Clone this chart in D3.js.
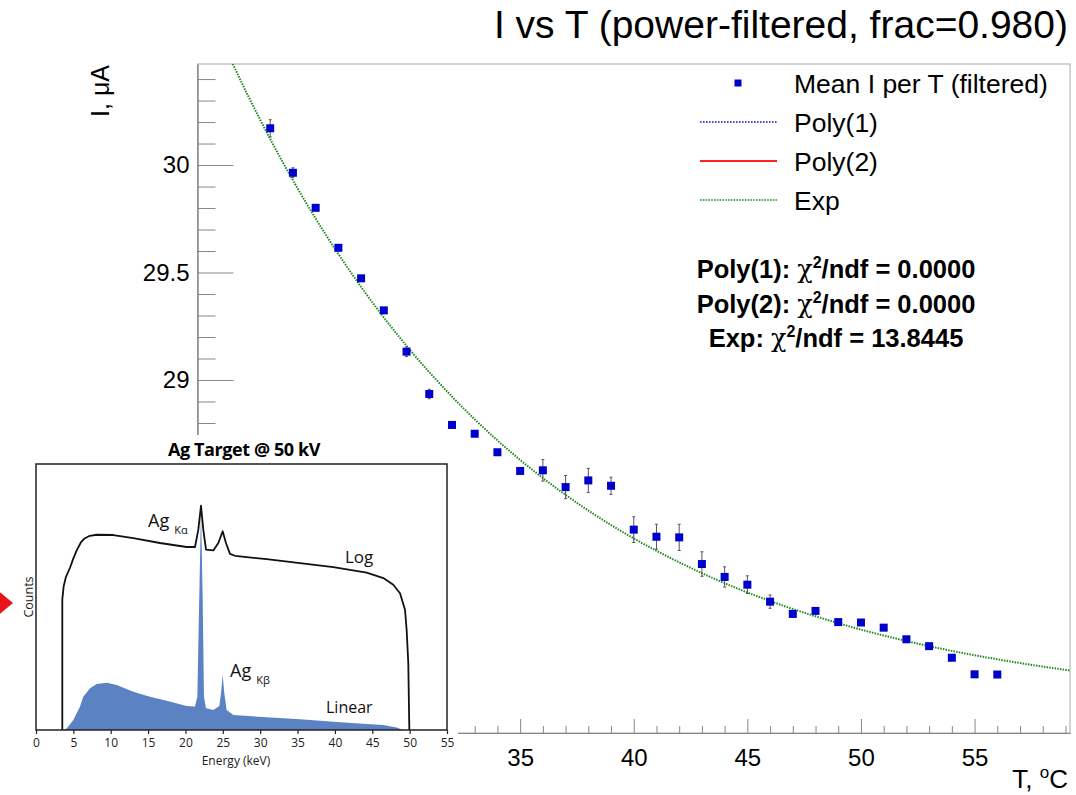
<!DOCTYPE html>
<html><head><meta charset="utf-8">
<script src="https://cdn.jsdelivr.net/npm/d3@7"></script>
<style>body{margin:0;background:#fff} svg{display:block}</style>
</head><body><svg id="c" width="1076" height="795"></svg>
<script>
// ---------- main chart data ----------
const temps = [24,25,26,27,28,29,30,31,32,33,34,35,36,37,38,39,40,41,42,43,44,45,46,47,48,49,50,51,52,53,54,55,56];
const meanI = [30.171,29.964,29.801,29.615,29.473,29.324,29.132,28.935,28.791,28.750,28.664,28.577,28.580,28.502,28.533,28.508,28.304,28.271,28.268,28.144,28.084,28.048,27.969,27.912,27.926,27.874,27.872,27.848,27.794,27.762,27.708,27.631,27.630];
const errI  = [0.040,0.023,0.010,0.008,0.012,0.008,0.023,0.022,0.006,0.006,0.010,0.008,0.050,0.054,0.056,0.040,0.060,0.058,0.061,0.057,0.047,0.041,0.031,0.015,0.008,0.006,0.006,0.006,0.010,0.008,0.008,0.006,0.006];
// Exp fit curve
const fitT = [22,23,24,26,28,30,32,34,36,38,40,42,44,46,48,50,52,54,56,58,59.2];
const fitI = [30.550,30.328,30.121,29.751,29.433,29.159,28.923,28.719,28.544,28.393,28.263,28.152,28.055,27.972,27.901,27.839,27.786,27.740,27.701,27.667,27.649];
// visible tick labels (the lower/left ones are covered by the inset picture)
const xTicks = [35,40,45,50,55];
const xTickLabels = ["35","40","45","50","55"];
const yTicks = [29,29.5,30];
const yTickLabels = ["29","29.5","30"];
const legendLabels = ["Mean I per T (filtered)","Poly(1)","Poly(2)","Exp"];
const fitNames = ["Poly(1)","Poly(2)","Exp"];
const chi2ndf = ["0.0000","0.0000","13.8445"];

// ---------- inset (Ag target spectrum) data ----------
const insetTicks = [0,5,10,15,20,25,30,35,40,45,50,55];
const logE = [3.52,3.52,3.7,4.0,4.55,5.0,5.45,6.0,6.5,7.2,8.12,10.35,13.02,16.59,20.16,21.28,21.72,22.08,22.39,22.75,23.73,24.40,24.98,25.42,25.96,26.63,30.86,35.33,39.79,44.25,46.48,47.81,48.71,49.38,49.60,49.82,49.96];
const logC = [0,0.49,0.54,0.575,0.61,0.645,0.675,0.705,0.72,0.73,0.734,0.733,0.721,0.703,0.688,0.688,0.753,0.843,0.753,0.678,0.675,0.703,0.747,0.703,0.662,0.655,0.642,0.627,0.612,0.592,0.571,0.546,0.514,0.452,0.376,0.251,0];
const linE = [3.66,4.1,5.0,5.89,6.33,7.23,8.12,9.46,10.79,13.02,15.25,17.48,20.16,21.28,21.59,21.85,22.08,22.30,22.48,22.75,23.73,24.53,24.76,24.98,25.20,25.51,26.40,30.86,35.33,39.79,44.25,46.48,48.26,49.15];
const linC = [0,0.006,0.038,0.088,0.125,0.157,0.173,0.178,0.169,0.144,0.125,0.110,0.090,0.088,0.125,0.5,0.828,0.5,0.125,0.082,0.075,0.090,0.138,0.207,0.138,0.075,0.056,0.048,0.040,0.031,0.023,0.019,0.009,0];

const svg = d3.select('#c');
svg.append('rect').attr('width',1076).attr('height',795).attr('fill','#fff');
const F = 'Liberation Sans, Arial, Helvetica, sans-serif';

const x = d3.scaleLinear().domain([20.8, 59.2]).range([197.5, 1070]);
const y = d3.scaleLinear().domain([27.358, 30.47]).range([733, 64]);

svg.append('defs').append('clipPath').attr('id','pc')
  .append('rect').attr('x',197.5).attr('y',64).attr('width',872.5).attr('height',669);

// frame
svg.append('rect').attr('x',197.5).attr('y',64).attr('width',872.5).attr('height',669)
  .attr('fill','none').attr('stroke','#aaa').attr('stroke-width',1);

// axes
function styleAxis(g){
  g.select('.domain').attr('stroke','#888');
  g.selectAll('.tick line').attr('stroke','#888');
  g.selectAll('text').attr('font-family',F).attr('font-size',24).attr('fill','#000');
}
const yMinor = y.ticks(31).filter(v => !yTicks.some(t => Math.abs(t-v)<1e-6));
svg.append('g').attr('transform','translate(197.5,0)')
  .call(d3.axisLeft(y).tickValues(yMinor).tickSize(-18).tickFormat('').tickSizeOuter(0)).call(styleAxis);
svg.append('g').attr('transform','translate(197.5,0)')
  .call(d3.axisLeft(y).tickValues(yTicks).tickSize(-36).tickPadding(8).tickSizeOuter(0)
    .tickFormat((d,i)=>yTickLabels[i])).call(styleAxis);
const xMinor = x.ticks(40).filter(v => !xTicks.includes(v));
svg.append('g').attr('transform','translate(0,733)')
  .call(d3.axisBottom(x).tickValues(xMinor).tickSize(-7).tickFormat('').tickSizeOuter(0)).call(styleAxis);
svg.append('g').attr('transform','translate(0,733)')
  .call(d3.axisBottom(x).tickValues(xTicks).tickSize(-14).tickPadding(16).tickSizeOuter(0)
    .tickFormat((d,i)=>xTickLabels[i])).call(styleAxis);

// axis titles
svg.append('text').attr('transform','translate(109,65) rotate(-90)').attr('text-anchor','end')
  .attr('font-family',F).attr('font-size',25).text('I, \u03bcA');
const xt = svg.append('text').attr('x',1068).attr('y',788).attr('text-anchor','end')
  .attr('font-family',F).attr('font-size',26);
xt.append('tspan').text('T, ');
xt.append('tspan').attr('font-size',17).attr('dy',-10).text('o');
xt.append('tspan').attr('dy',10).text('C');

// title
svg.append('text').attr('x',1068).attr('y',38).attr('text-anchor','end')
  .attr('font-family',F).attr('font-size',39).text('I vs T (power-filtered, frac=0.980)');

// fit curve
const plot = svg.append('g').attr('clip-path','url(#pc)');
plot.append('path').datum(fitT.map((t,i)=>[t,fitI[i]]))
  .attr('d', d3.line().x(d=>x(d[0])).y(d=>y(d[1])).curve(d3.curveMonotoneX))
  .attr('fill','none').attr('stroke','#1f8a1f').attr('stroke-width',2).attr('stroke-dasharray','1.5,1.2');

// error bars + markers
const pts = temps.map((t,i)=>({t, v:meanI[i], e:errI[i]}));
const eb = plot.append('g').attr('stroke','#555').attr('stroke-width',1);
pts.forEach(p=>{
  eb.append('line').attr('x1',x(p.t)).attr('x2',x(p.t)).attr('y1',y(p.v-p.e)).attr('y2',y(p.v+p.e));
  [p.v-p.e, p.v+p.e].forEach(v=>eb.append('line').attr('x1',x(p.t)-1.5).attr('x2',x(p.t)+1.5).attr('y1',y(v)).attr('y2',y(v)));
});
plot.append('g').selectAll('rect').data(pts).join('rect')
  .attr('x',d=>x(d.t)-4).attr('y',d=>y(d.v)-4).attr('width',8).attr('height',8).attr('fill','#0000cc');

// legend
const lg = svg.append('g');
const rowY = [83,122,161,200];
lg.append('rect').attr('x',734.5).attr('y',rowY[0]-3.5).attr('width',7).attr('height',7).attr('fill','#0000cc');
lg.append('line').attr('x1',700).attr('x2',777).attr('y1',rowY[1]).attr('y2',rowY[1])
  .attr('stroke','#1010ee').attr('stroke-width',1.6).attr('stroke-dasharray','1.6,1.4');
lg.append('line').attr('x1',700).attr('x2',777).attr('y1',rowY[2]).attr('y2',rowY[2])
  .attr('stroke','#ff2020').attr('stroke-width',2);
lg.append('line').attr('x1',700).attr('x2',777).attr('y1',rowY[3]).attr('y2',rowY[3])
  .attr('stroke','#1f8a1f').attr('stroke-width',1.6).attr('stroke-dasharray','1.6,1.2');
legendLabels.forEach((s,i)=>{
  lg.append('text').attr('x',794).attr('y',rowY[i]+10).attr('font-family',F).attr('font-size',26.5).text(s);
});

// chi2 text
const chiY = [278,312.5,347];
fitNames.forEach((n,i)=>{
  const t = svg.append('text').attr('x',836).attr('y',chiY[i]).attr('text-anchor','middle')
    .attr('font-family',F).attr('font-size',25.5).attr('font-weight','bold');
  t.append('tspan').text(n+': ');
  t.append('tspan').attr('font-weight','normal').attr('font-family','DejaVu Serif, serif').text('\u03c7');
  t.append('tspan').attr('font-size',16).attr('dy',-10).text('2');
  t.append('tspan').attr('dy',10).text('/ndf = '+chi2ndf[i]);
});

// ---------- inset ----------
const IF = 'Open Sans, Noto Sans, sans-serif';
const ins = svg.append('g');
ins.append('rect').attr('x',0).attr('y',435).attr('width',458).attr('height',360).attr('fill','#fff');
const ix = d3.scaleLinear().domain([0,55]).range([36,447]);
const iy = d3.scaleLinear().domain([0,1]).range([730,464]);

ins.append('path').datum(linE.map((e,i)=>[e,linC[i]]))
  .attr('d', d3.area().x(d=>ix(d[0])).y0(iy(0)).y1(d=>iy(d[1])))
  .attr('fill','#5b82c2');
ins.append('path').datum(logE.map((e,i)=>[e,logC[i]]))
  .attr('d', d3.line().x(d=>ix(d[0])).y(d=>iy(d[1])))
  .attr('fill','none').attr('stroke','#111').attr('stroke-width',1.8).attr('stroke-linejoin','round');
ins.append('rect').attr('x',36).attr('y',464).attr('width',411).attr('height',266)
  .attr('fill','none').attr('stroke','#222').attr('stroke-width',1.5);
const iax = ins.append('g').attr('transform','translate(0,730)')
  .call(d3.axisBottom(ix).tickValues(insetTicks).tickSize(4).tickPadding(4).tickSizeOuter(0));
iax.select('.domain').remove();
iax.selectAll('.tick line').attr('stroke','#222').attr('stroke-width',1.2);
iax.selectAll('text').attr('font-family',IF).attr('font-size',12).attr('fill','#222');

ins.append('text').attr('x',244).attr('y',456).attr('text-anchor','middle')
  .attr('font-family',IF).attr('font-size',18).attr('font-weight','bold').attr('letter-spacing',-0.4).text('Ag Target @ 50 kV');
ins.append('text').attr('x',236).attr('y',765).attr('text-anchor','middle')
  .attr('font-family',IF).attr('font-size',12).attr('fill','#222').text('Energy (keV)');
ins.append('text').attr('transform','translate(33,597) rotate(-90)').attr('text-anchor','middle')
  .attr('font-family',IF).attr('font-size',12.5).attr('fill','#222').text('Counts');

function agLabel(px,py,sub){
  const t = ins.append('text').attr('x',px).attr('y',py).attr('font-family',IF).attr('font-size',18).attr('fill','#111');
  t.append('tspan').text('Ag');
  t.append('tspan').attr('font-size',11).attr('dx',5).attr('dy',7).text(sub);
}
agLabel(148,526.5,'K\u03b1');
agLabel(230,676.5,'K\u03b2');
ins.append('text').attr('x',345).attr('y',563).attr('font-family',IF).attr('font-size',17).attr('fill','#111').text('Log');
ins.append('text').attr('x',326).attr('y',712.5).attr('font-family',IF).attr('font-size',16).attr('fill','#111').text('Linear');

// red arrow head at left edge
ins.append('path').attr('d','M-9,585 L13,603 L-9,621 Z').attr('fill','#e8141a');
</script></body></html>
